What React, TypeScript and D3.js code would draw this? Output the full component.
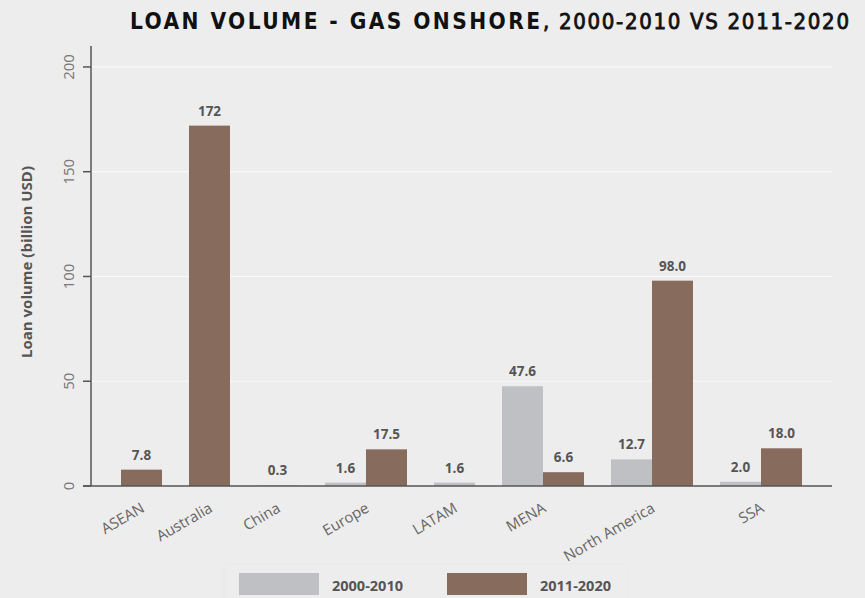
import React from "react";
import * as d3 from "d3";

const categories = ["ASEAN", "Australia", "China", "Europe", "LATAM", "MENA", "North America", "SSA"];
const series2000 = [null, null, 0.3, 1.6, 1.6, 47.6, 12.7, 2.0];
const series2011 = [7.8, 172, null, 17.5, null, 6.6, 98.0, 18.0];
const seriesNames = ["2000-2010", "2011-2020"];
const yTicks = [0, 50, 100, 150, 200];

const W = 865;
const H = 598;
const BG = "#EDEDED";
const COLORS = ["#BFC0C3", "#876C5E"];
const FONT = "'Open Sans', 'Noto Sans', sans-serif";
const TFONT = "'Liberation Sans Narrow', 'DejaVu Sans Condensed', sans-serif";

export default function App() {
  const yScale = d3.scaleLinear().domain([0, 210]).range([486, 46]);
  const GAP = 27 / 41;

  type Bar = { cat: string; s: number; v: number; u: number };
  const bars: Bar[] = [];
  const centers: number[] = [];
  let cursor = 0;
  categories.forEach((c, i) => {
    cursor += GAP / 2;
    const start = cursor;
    [series2000[i], series2011[i]].forEach((v, s) => {
      if (v !== null && v !== undefined) {
        bars.push({ cat: c, s, v: v as number, u: cursor });
        cursor += 1;
      }
    });
    centers.push((start + cursor) / 2);
    cursor += GAP / 2;
  });
  const xScale = d3.scaleLinear().domain([0, cursor]).range([107.5, 815.5]);
  const bw = xScale(1) - xScale(0);
  const fmt = (v: number) => (v >= 100 ? d3.format(".0f")(v) : d3.format(".1f")(v));

  return (
    <svg width={W} height={H} style={{ position: "absolute", left: 0, top: 0, background: BG }}>
      <rect x={0} y={0} width={W} height={H} fill={BG} />
      {/* title */}
      <text x={130} y={28.5} fontFamily={TFONT} fontWeight={700} fontSize={22.5} fill="#111" textLength={410} lengthAdjust="spacing">
        LOAN VOLUME - GAS ONSHORE
      </text>
      <text x={543} y={28.5} fontFamily={TFONT} fontWeight={400} fontSize={22} fill="#111" stroke="#111" strokeWidth={0.8} textLength={306} lengthAdjust="spacing">
        , 2000-2010 VS 2011-2020
      </text>

      {/* gridlines */}
      {yTicks.filter((t) => t > 0).map((t) => (
        <line key={"g" + t} x1={91} x2={832} y1={yScale(t)} y2={yScale(t)} stroke="#F9F9F9" strokeWidth={1.2} />
      ))}

      {/* bars */}
      {bars.map((b, i) => (
        <rect key={i} x={xScale(b.u)} y={yScale(b.v)} width={bw} height={yScale(0) - yScale(b.v)} fill={COLORS[b.s]} />
      ))}

      {/* value labels */}
      {bars.map((b, i) => (
        <text key={"l" + i} x={xScale(b.u) + bw / 2} y={yScale(b.v) - 10} textAnchor="middle" fontFamily={FONT} fontWeight={700} fontSize={13.5} fill="#555">
          {fmt(b.v)}
        </text>
      ))}

      {/* y axis */}
      <line x1={91} x2={91} y1={46} y2={486} stroke="#555" strokeWidth={1.5} />
      {yTicks.map((t) => (
        <g key={"t" + t}>
          <line x1={83} x2={91} y1={yScale(t)} y2={yScale(t)} stroke="#555" strokeWidth={1.5} />
          <text x={74} y={yScale(t)} transform={`rotate(-90, 74, ${yScale(t)})`} textAnchor="middle" fontFamily={FONT} fontWeight={400} fontSize={15} fill="#777">
            {t}
          </text>
        </g>
      ))}
      <text x={32} y={262} transform="rotate(-90, 32, 262)" textAnchor="middle" fontFamily={FONT} fontWeight={700} fontSize={15} fill="#555">
        Loan volume (billion USD)
      </text>

      {/* x axis */}
      <line x1={83} x2={832} y1={486} y2={486} stroke="#555" strokeWidth={1.5} />
      {categories.map((c, i) => {
        const x = xScale(centers[i]) + 4;
        const y = 511;
        return (
          <text key={"x" + c} x={x} y={y} transform={`rotate(-30, ${x}, ${y})`} textAnchor="end" fontFamily={FONT} fontSize={15} fill="#666">
            {c}
          </text>
        );
      })}

      {/* legend */}
      <rect x={224} y={564} width={403} height={40} fill="none" stroke="#E5ECEA" strokeWidth={1} />
      {seriesNames.map((s, i) => (
        <g key={s} transform={`translate(${239 + i * 208}, 0)`}>
          <rect x={0} y={573} width={80} height={22} fill={COLORS[i]} />
          <text x={93} y={591} fontFamily={FONT} fontWeight={700} fontSize={14.5} fill="#555">
            {s}
          </text>
        </g>
      ))}
    </svg>
  );
}
